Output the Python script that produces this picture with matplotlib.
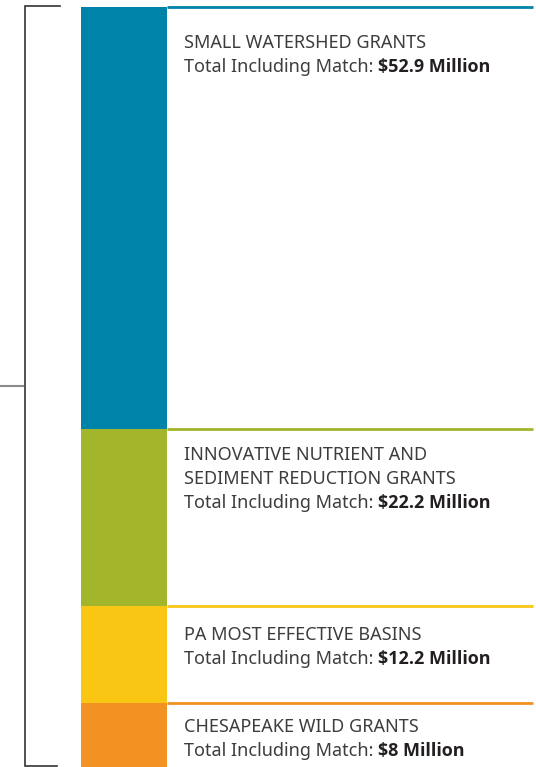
import matplotlib.pyplot as plt
from matplotlib.transforms import offset_copy

# grant programs, top to bottom
names = [
    ["SMALL WATERSHED GRANTS"],
    ["INNOVATIVE NUTRIENT AND", "SEDIMENT REDUCTION GRANTS"],
    ["PA MOST EFFECTIVE BASINS"],
    ["CHESAPEAKE WILD GRANTS"],
]
totals = [52.9, 22.2, 12.2, 8.0]  # $ million, incl. match
amount_labels = ["$52.9 Million", "$22.2 Million", "$12.2 Million", "$8 Million"]
colors = ["#0083a8", "#a3b52a", "#f8c613", "#f29222"]

W, H = 536, 767
TOP_PX = 7  # space above the bar, pixels
label_pad = [28, 18, 21, 16]  # pixels from segment top to cap line

plt.rcParams["font.family"] = ["Noto Sans", "DejaVu Sans"]

fig = plt.figure(figsize=(W / 100, H / 100), dpi=100)
ax = fig.add_axes([0, 0, 1, 1])
ax.axis("off")

grand = sum(totals)
per_px = grand / (H - TOP_PX)
ax.set_xlim(0, W)
ax.set_ylim(grand, -TOP_PX * per_px)

renderer = fig.canvas.get_renderer()
start = 0.0
for name, val, amt, col, pad in zip(names, totals, amount_labels, colors, label_pad):
    ax.bar(81, val, bottom=start, width=86, align="edge", color=col, linewidth=0)
    ax.hlines(start, 167, 533, color=col, lw=2)

    base = offset_copy(ax.transData, fig, x=0, y=-(pad + 13), units="dots")
    lines = name + ["Total Including Match: "]
    t = None
    for i, line in enumerate(lines):
        tr = offset_copy(base, fig, x=0, y=-24 * i, units="dots")
        t = ax.text(184, start, line, transform=tr, fontsize=13, color="#3d3d3d",
                    va="baseline", ha="left")
    w = t.get_window_extent(renderer).width
    tr = offset_copy(base, fig, x=w, y=-24 * (len(lines) - 1), units="dots")
    ax.text(184, start, amt, transform=tr, fontsize=13, color="#231f20",
            family=["Open Sans", "DejaVu Sans"], fontweight="bold",
            va="baseline", ha="left")
    start += val

# bracket on the left
y_top = -1 * per_px
y_bot = grand - 1 * per_px
ax.plot([60, 24.5, 24.5, 57], [y_top, y_top, y_bot, y_bot], color="#333333", lw=1.2,
        solid_joinstyle="miter")
ax.plot([0, 23], [(y_top + y_bot) / 2] * 2, color="#8a8a8a", lw=1.5)

fig.savefig("out.png", dpi=100)
